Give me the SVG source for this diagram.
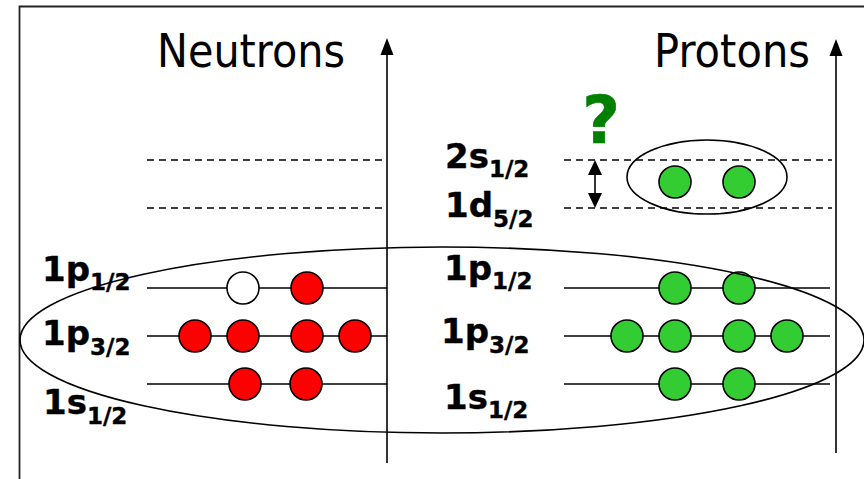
<svg xmlns="http://www.w3.org/2000/svg" width="864" height="479" viewBox="0 0 864 479">
<defs>
<style>
.title{font-family:"DejaVu Sans",Verdana,sans-serif;font-size:47px;fill:#000}
.lbl{font-family:"DejaVu Sans","Liberation Sans",sans-serif;font-weight:bold;font-size:34px;fill:#000;stroke:#000;stroke-width:0.4}
.sub{font-size:23px}
.lvl{stroke:#000;stroke-width:1.6;fill:none}
.dash{stroke:#000;stroke-width:1.4;stroke-dasharray:7 5;fill:none}
.n{fill:#ff0000;stroke:#000;stroke-width:1.6}
.p{fill:#33cc33;stroke:#000;stroke-width:1.6}
.h{fill:#fff;stroke:#000;stroke-width:1.6}
.ell{fill:none;stroke:#000;stroke-width:1.6}
</style>
</defs>
<rect width="864" height="479" fill="#fff"/>
<g id="frame">
<path d="M19.5,479 V6.5 H864" fill="none" stroke="#222" stroke-width="1.8"/>
</g>
<g id="titles">
<text class="title" x="157" y="67" textLength="188" lengthAdjust="spacingAndGlyphs">Neutrons</text>
<text class="title" x="654" y="67" textLength="156" lengthAdjust="spacingAndGlyphs">Protons</text>
</g>
<g id="connectors">
<line x1="387" y1="463" x2="387" y2="52" stroke="#000" stroke-width="1.6"/>
<polygon points="387,38 380.5,55 393.5,55" fill="#000"/>
<line x1="836" y1="453" x2="836" y2="53" stroke="#000" stroke-width="1.6"/>
<polygon points="836,39 829.5,56 842.5,56" fill="#000"/>
<line x1="595" y1="172" x2="595" y2="196" stroke="#000" stroke-width="1.6"/>
<polygon points="595,160 588,175 602,175" fill="#000"/>
<polygon points="595,208 588,193 602,193" fill="#000"/>
</g>
<g id="levels">
<line class="dash" x1="147" y1="160" x2="387" y2="160"/>
<line class="dash" x1="147" y1="208" x2="387" y2="208"/>
<line class="dash" x1="564" y1="160" x2="832" y2="160"/>
<line class="dash" x1="564" y1="208" x2="832" y2="208"/>
<line class="lvl" x1="147" y1="288" x2="387" y2="288"/>
<line class="lvl" x1="147" y1="336" x2="387" y2="336"/>
<line class="lvl" x1="147" y1="384" x2="387" y2="384"/>
<line class="lvl" x1="564" y1="288" x2="830" y2="288"/>
<line class="lvl" x1="564" y1="336" x2="830" y2="336"/>
<line class="lvl" x1="564" y1="384" x2="830" y2="384"/>
</g>
<g id="labels">
<text class="lbl" x="42" y="281">1p<tspan class="sub" dy="9">1/2</tspan></text>
<text class="lbl" x="42" y="345">1p<tspan class="sub" dy="10">3/2</tspan></text>
<text class="lbl" x="43" y="414">1s<tspan class="sub" dy="10">1/2</tspan></text>
<text class="lbl" x="445" y="168">2s<tspan class="sub" dy="9">1/2</tspan></text>
<text class="lbl" x="445" y="217">1d<tspan class="sub" dy="10">5/2</tspan></text>
<text class="lbl" x="444" y="280">1p<tspan class="sub" dy="9">1/2</tspan></text>
<text class="lbl" x="441" y="343">1p<tspan class="sub" dy="10">3/2</tspan></text>
<text class="lbl" x="444" y="409">1s<tspan class="sub" dy="9">1/2</tspan></text>
<text x="601" y="143" text-anchor="middle" font-family="DejaVu Sans,sans-serif" font-weight="bold" font-size="65" fill="#008000" stroke="#008000" stroke-width="0.6">?</text>
</g>
<g id="neutrons">
<circle class="h" cx="243" cy="288" r="16"/>
<circle class="n" cx="307" cy="288" r="16"/>
<circle class="n" cx="195" cy="336" r="16"/>
<circle class="n" cx="243" cy="336" r="16"/>
<circle class="n" cx="307" cy="336" r="16"/>
<circle class="n" cx="355" cy="336" r="16"/>
<circle class="n" cx="245" cy="384" r="16"/>
<circle class="n" cx="306" cy="384" r="16"/>
</g>
<g id="protons">
<circle class="p" cx="675" cy="182" r="16"/>
<circle class="p" cx="739" cy="182" r="16"/>
<circle class="p" cx="675" cy="288" r="16"/>
<circle class="p" cx="739" cy="288" r="16"/>
<circle class="p" cx="627" cy="336" r="16"/>
<circle class="p" cx="675" cy="336" r="16"/>
<circle class="p" cx="739" cy="336" r="16"/>
<circle class="p" cx="787" cy="336" r="16"/>
<circle class="p" cx="675" cy="384" r="16"/>
<circle class="p" cx="739" cy="384" r="16"/>
</g>
<g id="groups">
<ellipse class="ell" cx="707" cy="177" rx="80" ry="37"/>
<ellipse class="ell" cx="442" cy="340" rx="422" ry="93"/>
</g>
</svg>
